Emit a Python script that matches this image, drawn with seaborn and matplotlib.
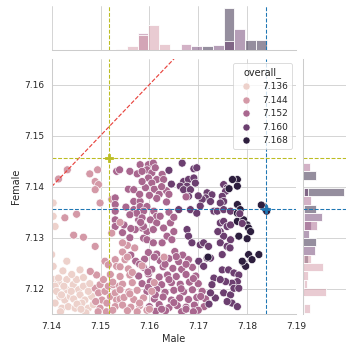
import seaborn as sns
import matplotlib.pyplot as plt
import numpy as np
import pandas as pd

# overall_ takes five values
L1, L2, L3, L4, L5 = 7.136, 7.144, 7.152, 7.160, 7.168

# bottom-left light cloud
male_low = [7.1403, 7.1414, 7.1407, 7.1417, 7.1407, 7.1427, 7.1421, 7.1434, 7.1448, 7.1438,
            7.1431, 7.1444, 7.1455, 7.1465, 7.1458, 7.1468, 7.1462, 7.1475, 7.1485, 7.1482,
            7.1475, 7.1489, 7.1499, 7.1496, 7.1503, 7.1499, 7.1513, 7.1520, 7.1509, 7.1516,
            7.1526, 7.1530, 7.1533, 7.1530, 7.1451, 7.1431, 7.1403, 7.1414, 7.1506, 7.1492,
            7.1479, 7.1458, 7.1418, 7.1470, 7.1512, 7.1441, 7.1423]
female_low = [7.1218, 7.1214, 7.1205, 7.1185, 7.1172, 7.1178, 7.1162, 7.1165, 7.1162, 7.1185,
              7.1198, 7.1208, 7.1198, 7.1205, 7.1188, 7.1178, 7.1172, 7.1162, 7.1169, 7.1185,
              7.1195, 7.1201, 7.1208, 7.1192, 7.1178, 7.1162, 7.1172, 7.1185, 7.1195, 7.1205,
              7.1208, 7.1192, 7.1178, 7.1165, 7.1218, 7.1218, 7.1244, 7.1221, 7.1218, 7.1227,
              7.1234, 7.1237, 7.1155, 7.1153, 7.1155, 7.1228, 7.1235]
overall_low = [L1, L1, L1, L1, L1, L1, L1, L1, L1, L1,
               L1, L1, L1, L1, L1, L1, L1, L1, L1, L1,
               L1, L2, L2, L2, L2, L2, L2, L2, L2, L2,
               L2, L2, L2, L2, L1, L1, L1, L1, L2, L2,
               L2, L1, L1, L1, L2, L1, L1]

# sparse points on the left
male_left = [7.1403, 7.1403, 7.1427, 7.1451, 7.1407, 7.1465, 7.1489, 7.1400, 7.1431, 7.1414,
             7.1432, 7.1478, 7.1494, 7.1489, 7.1496, 7.1489, 7.1499, 7.1523, 7.1530, 7.1533,
             7.1539, 7.1509, 7.1516, 7.1530, 7.1533, 7.1530, 7.1530, 7.1530, 7.1530, 7.1523,
             7.1445]
female_left = [7.1368, 7.1342, 7.1339, 7.1346, 7.1322, 7.1301, 7.1283, 7.1267, 7.1254, 7.1415,
               7.1433, 7.1425, 7.1433, 7.1410, 7.1404, 7.1394, 7.1368, 7.1375, 7.1378, 7.1430,
               7.1433, 7.1254, 7.1247, 7.1257, 7.1244, 7.1365, 7.1352, 7.1335, 7.1322, 7.1309,
               7.1305]
overall_left = [L1, L1, L2, L2, L1, L2, L2, L1, L1, L2,
                L2, L2, L2, L2, L2, L2, L2, L2, L3, L3,
                L3, L2, L2, L2, L2, L3, L3, L3, L3, L2,
                L2]

# upper middle cluster
male_top = [7.1557, 7.1568, 7.1568, 7.1581, 7.1581, 7.1598, 7.1608, 7.1595, 7.1605, 7.1612,
            7.1626, 7.1615, 7.1629, 7.1598, 7.1605, 7.1610, 7.1620, 7.1635, 7.1615, 7.1635,
            7.1640, 7.1592, 7.1585, 7.1575, 7.1560, 7.1640, 7.1645, 7.1600, 7.1625, 7.1580]
female_top = [7.1395, 7.1394, 7.1371, 7.1371, 7.1443, 7.1443, 7.1446, 7.1433, 7.1427, 7.1437,
              7.1424, 7.1414, 7.1414, 7.1417, 7.1407, 7.1395, 7.1385, 7.1392, 7.1377, 7.1370,
              7.1385, 7.1398, 7.1410, 7.1425, 7.1430, 7.1432, 7.1405, 7.1383, 7.1400, 7.1385]
overall_top = [L3, L3, L3, L3, L3, L3, L3, L3, L3, L3,
               L3, L3, L3, L3, L3, L3, L3, L3, L3, L3,
               L3, L3, L3, L3, L3, L4, L4, L3, L3, L3]

# middle band
male_mid = [7.1568, 7.1581, 7.1578, 7.1585, 7.1595, 7.1588, 7.1581, 7.1595, 7.1588, 7.1609,
            7.1615, 7.1574, 7.1585, 7.1602, 7.1615, 7.1629, 7.1608, 7.1588, 7.1571, 7.1595,
            7.1608, 7.1626, 7.1636, 7.1646, 7.1650, 7.1643, 7.1622, 7.1560, 7.1555, 7.1570,
            7.1545, 7.1640, 7.1650, 7.1548, 7.1560, 7.1552, 7.1545, 7.1562]
female_mid = [7.1355, 7.1355, 7.1335, 7.1319, 7.1312, 7.1299, 7.1361, 7.1361, 7.1352, 7.1352,
              7.1342, 7.1348, 7.1339, 7.1335, 7.1329, 7.1319, 7.1316, 7.1322, 7.1316, 7.1296,
              7.1290, 7.1290, 7.1303, 7.1296, 7.1312, 7.1329, 7.1342, 7.1300, 7.1285, 7.1280,
              7.1310, 7.1350, 7.1340, 7.1325, 7.1345, 7.1360, 7.1290, 7.1318]
overall_mid = [L3, L3, L3, L3, L3, L3, L3, L3, L3, L3,
               L3, L3, L3, L3, L3, L3, L3, L3, L3, L3,
               L3, L3, L3, L3, L3, L3, L3, L3, L2, L2,
               L3, L3, L3, L3, L3, L3, L2, L3]

# dense lower band
male_band = [7.1545, 7.1562, 7.1598, 7.1615, 7.1652, 7.1668,
             7.1550, 7.1572, 7.1590, 7.1622, 7.1640, 7.1660, 7.1680,
             7.1540, 7.1557, 7.1588, 7.1605, 7.1628, 7.1648, 7.1666, 7.1688,
             7.1520, 7.1540, 7.1560, 7.1578, 7.1598, 7.1620, 7.1637, 7.1655, 7.1675, 7.1695,
             7.1525, 7.1545, 7.1565, 7.1585, 7.1602, 7.1625, 7.1645, 7.1663, 7.1682, 7.1700,
             7.1540, 7.1558, 7.1575, 7.1595, 7.1615, 7.1632, 7.1650, 7.1670, 7.1688, 7.1708,
             7.1548, 7.1568, 7.1588, 7.1610, 7.1628, 7.1645, 7.1662, 7.1680, 7.1697, 7.1715,
             7.1545, 7.1562, 7.1580, 7.1600, 7.1620, 7.1640, 7.1657, 7.1675, 7.1692, 7.1712,
             7.1555, 7.1575, 7.1595, 7.1613, 7.1633, 7.1666, 7.1700,
             7.1555, 7.1580, 7.1610, 7.1632, 7.1655, 7.1675, 7.1597, 7.1640, 7.1690, 7.1705,
             7.1722, 7.1612, 7.1650, 7.1580, 7.1560, 7.1625, 7.1675, 7.1598, 7.1665, 7.1690]
female_band = [7.1272, 7.1266, 7.1271, 7.1268, 7.1273, 7.1266,
               7.1257, 7.1254, 7.1258, 7.1255, 7.1259, 7.1253, 7.1257,
               7.1243, 7.1239, 7.1242, 7.1238, 7.1243, 7.1240, 7.1238, 7.1242,
               7.1228, 7.1224, 7.1227, 7.1225, 7.1229, 7.1223, 7.1227, 7.1224, 7.1228, 7.1225,
               7.1213, 7.1209, 7.1212, 7.1210, 7.1214, 7.1208, 7.1212, 7.1209, 7.1213, 7.1210,
               7.1198, 7.1194, 7.1197, 7.1195, 7.1199, 7.1193, 7.1197, 7.1194, 7.1198, 7.1195,
               7.1183, 7.1179, 7.1182, 7.1180, 7.1184, 7.1178, 7.1182, 7.1179, 7.1183, 7.1180,
               7.1168, 7.1164, 7.1167, 7.1165, 7.1169, 7.1163, 7.1167, 7.1164, 7.1168, 7.1165,
               7.1157, 7.1155, 7.1158, 7.1156, 7.1157, 7.1155, 7.1158,
               7.1262, 7.1248, 7.1262, 7.1248, 7.1263, 7.1248, 7.1233, 7.1218, 7.1220, 7.1185,
               7.1170, 7.1188, 7.1173, 7.1172, 7.1190, 7.1160, 7.1160, 7.1203, 7.1200, 7.1155]
overall_band = [L2, L3, L3, L3, L3, L3,
                L2, L3, L3, L3, L3, L3, L3,
                L2, L2, L3, L3, L3, L3, L3, L3,
                L2, L2, L2, L3, L3, L3, L3, L3, L3, L3,
                L2, L2, L2, L3, L3, L3, L3, L3, L3, L3,
                L2, L2, L2, L3, L3, L3, L3, L3, L3, L3,
                L2, L2, L2, L3, L3, L3, L3, L3, L3, L3,
                L2, L2, L2, L3, L3, L3, L3, L3, L3, L3,
                L2, L2, L2, L3, L3, L3, L3,
                L2, L3, L3, L3, L3, L3, L3, L3, L3, L3,
                L4, L3, L3, L2, L2, L3, L3, L3, L3, L3]

# extra light points bottom left
male_pale = [7.1410, 7.1425, 7.1445, 7.1452, 7.1440, 7.1490, 7.1478, 7.1465, 7.1420, 7.1460,
             7.1495, 7.1525, 7.1538, 7.1540]
female_pale = [7.1195, 7.1205, 7.1180, 7.1170, 7.1195, 7.1175, 7.1210, 7.1222, 7.1188, 7.1160,
               7.1155, 7.1158, 7.1205, 7.1180]
overall_pale = [L1, L1, L1, L1, L1, L2, L1, L1, L1, L1,
                L2, L2, L2, L2]

# dark group on the right
male_right = [7.1667, 7.1691, 7.1697, 7.1670, 7.1680, 7.1691, 7.1694, 7.1677, 7.1663, 7.1752,
              7.1759, 7.1756, 7.1780, 7.1780, 7.1670, 7.1684, 7.1680, 7.1718, 7.1728, 7.1715,
              7.1725, 7.1708, 7.1704, 7.1749, 7.1752, 7.1745, 7.1660, 7.1684, 7.1697, 7.1732,
              7.1739, 7.1752, 7.1766, 7.1780, 7.1786, 7.1780, 7.1834, 7.1838, 7.1840, 7.1745,
              7.1752, 7.1759, 7.1745, 7.1766, 7.1780, 7.1793, 7.1800, 7.1803, 7.1807, 7.1783,
              7.1752, 7.1677, 7.1680, 7.1687, 7.1704, 7.1711, 7.1721, 7.1745, 7.1759, 7.1766,
              7.1803, 7.1810, 7.1824, 7.1793, 7.1797, 7.1749, 7.1718, 7.1725, 7.1701, 7.1790,
              7.1749, 7.1762, 7.1773, 7.1783, 7.1780, 7.1769, 7.1756, 7.1732, 7.1728, 7.1711,
              7.1752, 7.1766, 7.1773, 7.1783, 7.1769, 7.1780, 7.1759, 7.1735, 7.1725, 7.1745]
female_right = [7.1446, 7.1435, 7.1437, 7.1410, 7.1414, 7.1417, 7.1407, 7.1401, 7.1401, 7.1404,
                7.1397, 7.1391, 7.1414, 7.1401, 7.1394, 7.1394, 7.1381, 7.1388, 7.1384, 7.1378,
                7.1371, 7.1375, 7.1362, 7.1381, 7.1371, 7.1368, 7.1355, 7.1355, 7.1348, 7.1352,
                7.1352, 7.1355, 7.1352, 7.1365, 7.1355, 7.1348, 7.1361, 7.1355, 7.1352, 7.1329,
                7.1332, 7.1322, 7.1312, 7.1325, 7.1332, 7.1335, 7.1325, 7.1319, 7.1312, 7.1303,
                7.1303, 7.1316, 7.1303, 7.1290, 7.1286, 7.1290, 7.1283, 7.1290, 7.1283, 7.1296,
                7.1267, 7.1257, 7.1267, 7.1250, 7.1244, 7.1267, 7.1260, 7.1260, 7.1254, 7.1254,
                7.1237, 7.1237, 7.1231, 7.1227, 7.1214, 7.1211, 7.1214, 7.1221, 7.1208, 7.1244,
                7.1192, 7.1188, 7.1201, 7.1201, 7.1172, 7.1165, 7.1175, 7.1182, 7.1192, 7.1218]
overall_right = [L4, L4, L4, L4, L4, L4, L4, L4, L4, L4,
                 L4, L4, L5, L5, L4, L4, L4, L4, L4, L4,
                 L4, L4, L4, L4, L4, L4, L4, L4, L4, L4,
                 L4, L4, L4, L5, L5, L5, L5, L5, L5, L4,
                 L4, L4, L4, L4, L5, L5, L5, L5, L5, L5,
                 L4, L4, L4, L4, L4, L4, L4, L4, L4, L4,
                 L5, L5, L5, L5, L5, L4, L4, L4, L4, L5,
                 L4, L4, L4, L4, L4, L4, L4, L4, L4, L4,
                 L4, L4, L4, L4, L4, L4, L4, L4, L4, L4]

# points that repeat many times (they make the marginal bars)
male_rep = [7.1605, 7.1585, 7.1582, 7.1763, 7.1785, 7.1829, 7.1800, 7.1770, 7.1675, 7.1765,
            7.1790, 7.1700, 7.1585, 7.1565, 7.1740, 7.1630, 7.1610, 7.1600, 7.1720, 7.1540]
female_rep = [7.1195, 7.1245, 7.1330, 7.1396, 7.1347, 7.1364, 7.1298, 7.1414, 7.1380, 7.1280,
              7.1328, 7.1382, 7.1430, 7.1232, 7.1312, 7.1262, 7.1212, 7.1160, 7.1262, 7.1330]
overall_rep = [L2, L2, L3, L5, L4, L5, L5, L5, L3, L4,
               L4, L4, L3, L2, L4, L2, L2, L2, L5, L2]
n_rep = [920, 800, 560, 1640, 760, 520, 520, 520, 320, 480,
         320, 200, 280, 200, 240, 320, 160, 240, 200, 40]

# reference points
target_male, target_female = 7.1517, 7.1456
best_male, best_female = 7.1838, 7.1357
male_lim = (7.14, 7.19)
female_lim = (7.115, 7.165)

male = male_low + male_pale + male_left + male_top + male_mid + male_band + male_right + male_rep
female = female_low + female_pale + female_left + female_top + female_mid + female_band + female_right + female_rep
overall = overall_low + overall_pale + overall_left + overall_top + overall_mid + overall_band + overall_right + overall_rep
n = [1] * (len(male) - len(male_rep)) + n_rep

df = pd.DataFrame({'Male': male, 'Female': female, 'overall_': overall, 'n': n})

sns.set_theme(style='whitegrid')
g = sns.JointGrid(data=df, x='Male', y='Female', hue='overall_', height=6)
g.plot_joint(sns.scatterplot, s=95)
sns.histplot(data=df, x='Male', hue='overall_', weights='n', bins=20, legend=False, ax=g.ax_marg_x)
sns.histplot(data=df, y='Female', hue='overall_', weights='n', bins=18, legend=False, ax=g.ax_marg_y)
for a in (g.ax_marg_x, g.ax_marg_y):
    a.set_xlabel('')
    a.set_ylabel('')

ax = g.ax_joint
ax.plot(male_lim, male_lim, ls='--', color='#e8413b', lw=1.4)
for a in (ax, g.ax_marg_x):
    a.axvline(target_male, color='tab:olive', ls='--', lw=1.3)
    a.axvline(best_male, color='tab:blue', ls='--', lw=1.3)
for a in (ax, g.ax_marg_y):
    a.axhline(target_female, color='tab:olive', ls='--', lw=1.3)
    a.axhline(best_female, color='tab:blue', ls='--', lw=1.3)
ax.plot(target_male, target_female, marker='P', ms=11, color='tab:olive')
ax.plot(best_male, best_female, marker='P', ms=11, color='tab:blue')
ax.set_xlim(male_lim)
ax.set_ylim(female_lim)

sns.move_legend(ax, 'upper right', markerscale=0.9)
for t in ax.get_legend().get_texts():
    t.set_text(f'{float(t.get_text()):.3f}')

ax.set_position([0.1468, 0.1071, 0.6941, 0.7253])
g.ax_marg_x.set_position([0.1468, 0.857, 0.6941, 0.126])
g.ax_marg_y.set_position([0.8617, 0.1071, 0.1213, 0.7253])

plt.savefig('out.png', dpi=352 / 6)
